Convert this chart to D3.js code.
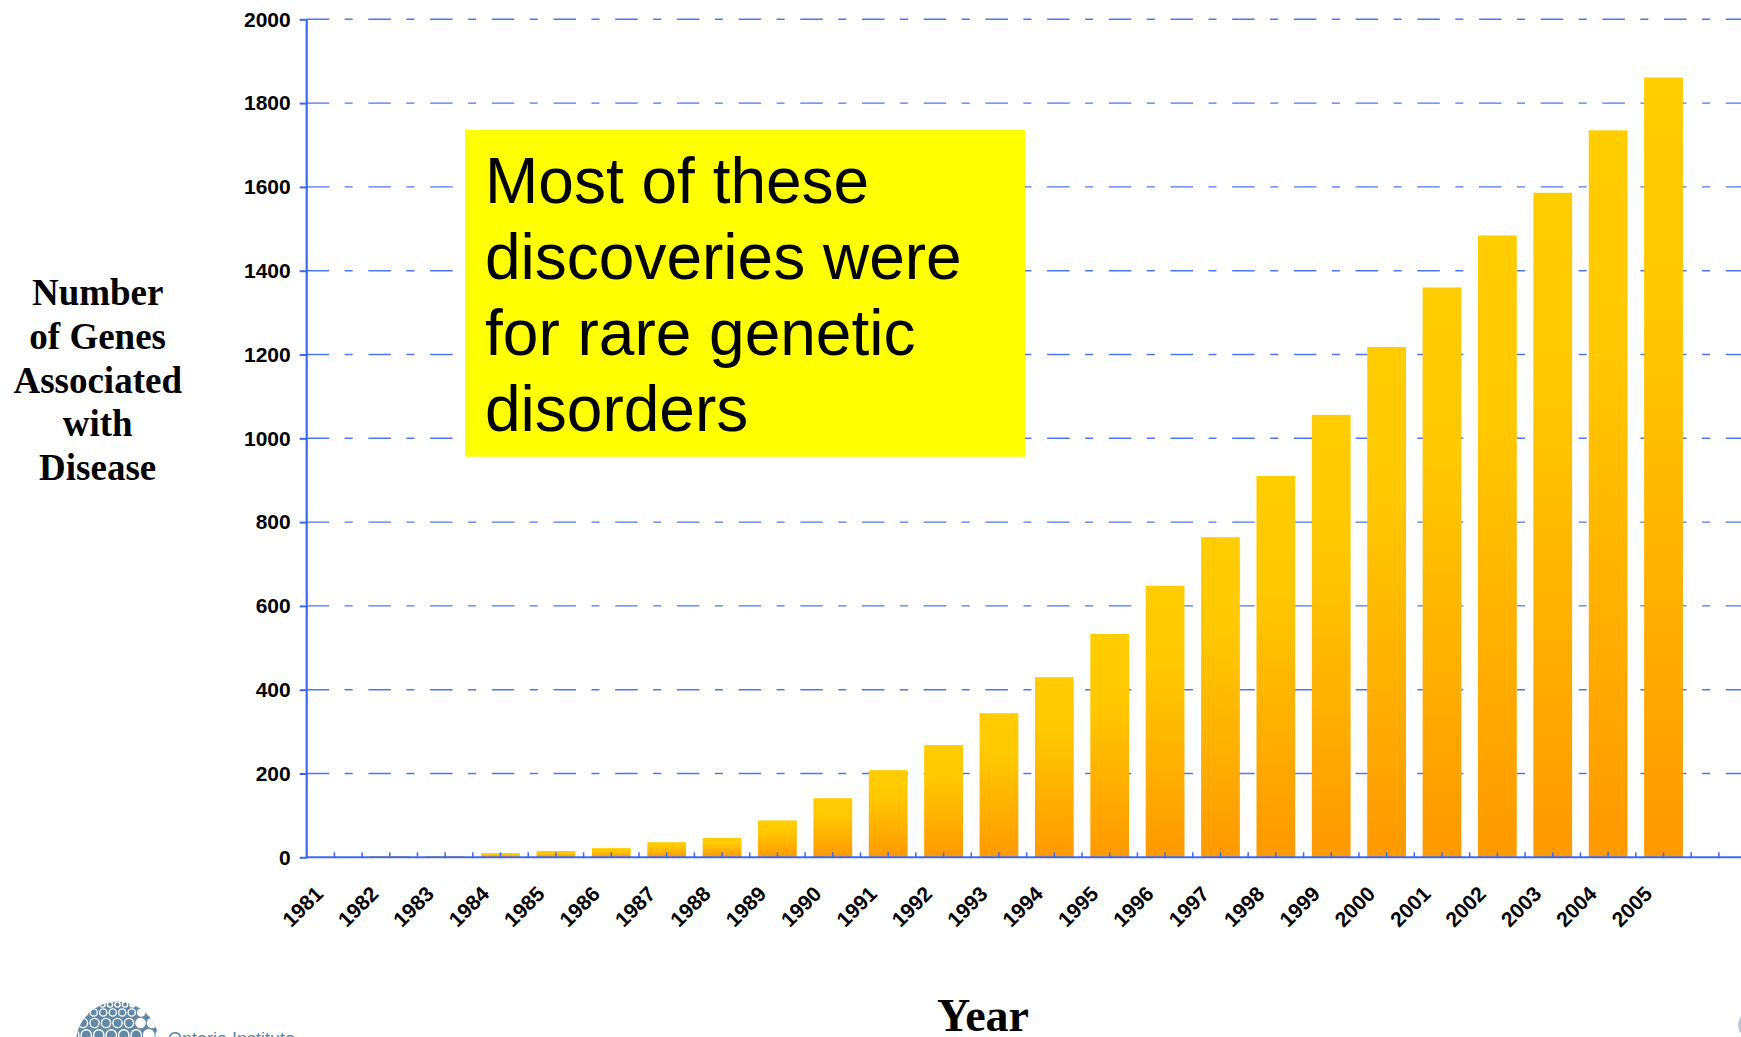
<!DOCTYPE html>
<html>
<head>
<meta charset="utf-8">
<script src="https://cdn.jsdelivr.net/npm/d3@7/dist/d3.min.js"></script>
<style>
  html, body { margin: 0; padding: 0; background: #ffffff; }
  svg { display: block; }
</style>
</head>
<body>
<svg id="chart" width="1741" height="1037"></svg>
<script>
// Genes associated with disease, cumulative count per year
const years = ["1981","1982","1983","1984","1985","1986","1987","1988","1989","1990",
               "1991","1992","1993","1994","1995","1996","1997","1998","1999","2000",
               "2001","2002","2003","2004","2005"];
const geneCounts = [0, 3, 3, 10, 15, 22, 36, 46, 88, 141,
                    208, 268, 344, 430, 533, 648, 764, 910, 1056, 1218,
                    1360, 1484, 1586, 1735, 1861];
const yTicks = [0, 200, 400, 600, 800, 1000, 1200, 1400, 1600, 1800, 2000];
const yTitleLines = ["Number", "of Genes", "Associated", "with", "Disease"];
const xTitle = "Year";
const noteLines = ["Most of these", "discoveries were", "for rare genetic", "disorders"];

const W = 1741, H = 1037;
const plot = { left: 306.7, right: W, top: 19.3, bottom: 857.3 };
const slot = 55.38;

const svg = d3.select("#chart");
const blue = "#3a68f7";

const x = d3.scaleBand()
  .domain(years)
  .range([plot.left, plot.left + slot * years.length])
  .paddingInner(0.3)
  .paddingOuter(0.15);

const y = d3.scaleLinear().domain([0, 2000]).range([plot.bottom, plot.top]);

// bar gradient: yellow at the top fading to orange at the base
const defs = svg.append("defs");
const grad = defs.append("linearGradient")
  .attr("id", "barFill").attr("x1", 0).attr("y1", 0).attr("x2", 0).attr("y2", 1);
grad.append("stop").attr("offset", "0%").attr("stop-color", "#ffcd00");
grad.append("stop").attr("offset", "30%").attr("stop-color", "#ffc800");
grad.append("stop").attr("offset", "100%").attr("stop-color", "#ff9900");

// dash-dot gridlines
svg.append("g").attr("class", "grid")
  .selectAll("line")
  .data(yTicks.filter(d => d > 0))
  .join("line")
  .attr("x1", plot.left).attr("x2", plot.right)
  .attr("y1", d => y(d)).attr("y2", d => y(d))
  .attr("stroke", "#4d76f2")
  .attr("stroke-width", 1.4)
  .attr("stroke-dasharray", "22.5,15.5,8,15.7");

// bars
svg.append("g").attr("class", "bars")
  .selectAll("rect")
  .data(years.map((yr, i) => ({ yr, v: geneCounts[i] })))
  .join("rect")
  .attr("x", d => x(d.yr))
  .attr("width", x.bandwidth())
  .attr("y", d => y(d.v))
  .attr("height", d => y(0) - y(d.v))
  .attr("fill", "url(#barFill)");

// note box
const note = svg.append("g").attr("class", "note");
note.append("rect")
  .attr("x", 465).attr("y", 130).attr("width", 560).attr("height", 326.7)
  .attr("fill", "#ffff00");
note.selectAll("text")
  .data(noteLines)
  .join("text")
  .attr("x", 485)
  .attr("y", (d, i) => 203 + i * 76)
  .attr("font-family", "'Liberation Sans', Arial, Helvetica, sans-serif")
  .attr("font-size", 64)
  .attr("fill", "#000")
  .text(d => d);

// y axis
const yAxis = svg.append("g")
  .attr("transform", `translate(${plot.left},0)`)
  .call(d3.axisLeft(y).tickValues(yTicks).tickFormat(d3.format("d")).tickSize(7).tickPadding(9));
yAxis.select(".domain").attr("stroke", blue).attr("stroke-width", 2.2)
  .attr("d", `M0,${plot.top}V${plot.bottom + 1}`);
yAxis.selectAll(".tick line").attr("stroke", blue).attr("stroke-width", 2);
yAxis.selectAll(".tick text")
  .attr("font-family", "'Liberation Sans', Arial, Helvetica, sans-serif")
  .attr("font-weight", "bold")
  .attr("font-size", 21)
  .attr("fill", "#000");

// x axis: baseline, half-slot ticks, rotated year labels
const xAxis = svg.append("g")
  .attr("transform", `translate(0,${plot.bottom})`)
  .call(d3.axisBottom(x).tickSize(0).tickPadding(0));
xAxis.select(".domain").attr("stroke", blue).attr("stroke-width", 2)
  .attr("d", `M${plot.left},0H${plot.right}`);
xAxis.selectAll(".tick text")
  .attr("font-family", "'Liberation Sans', Arial, Helvetica, sans-serif")
  .attr("font-weight", "bold")
  .attr("font-size", 21)
  .attr("fill", "#000")
  .attr("text-anchor", "end")
  .attr("dy", 0)
  .attr("transform", "translate(-10,38) rotate(-45)");

const half = x.step() / 2;
const firstCenter = x(years[0]) + x.bandwidth() / 2;
const minorTicks = d3.range(firstCenter, plot.right, half);
xAxis.append("g").selectAll("line")
  .data(minorTicks)
  .join("line")
  .attr("x1", d => d).attr("x2", d => d)
  .attr("y1", 0).attr("y2", -5)
  .attr("stroke", blue).attr("stroke-width", 1.5);

// axis titles
svg.append("g").selectAll("text")
  .data(yTitleLines)
  .join("text")
  .attr("x", 97.7)
  .attr("y", (d, i) => 305 + i * 43.8)
  .attr("text-anchor", "middle")
  .attr("font-family", "'Liberation Serif', 'Times New Roman', serif")
  .attr("font-weight", "bold")
  .attr("font-size", 37)
  .attr("fill", "#000")
  .text(d => d);

svg.append("text")
  .attr("x", 983).attr("y", 1031)
  .attr("text-anchor", "middle")
  .attr("font-family", "'Liberation Serif', 'Times New Roman', serif")
  .attr("font-weight", "bold")
  .attr("font-size", 46)
  .attr("fill", "#000")
  .text(xTitle);

// institute logo in the lower left corner
const logo = svg.append("g").attr("class", "logo");
const gx = 117.5, gy = 1043, gr = 41.5;
defs.append("clipPath").attr("id", "globeClip")
  .append("circle").attr("cx", gx).attr("cy", gy).attr("r", gr);
logo.append("circle").attr("cx", gx).attr("cy", gy).attr("r", gr).attr("fill", "#6189a7");
const holes = [];
[[1004.5, 7.5, 2.6], [1012.5, 9.5, 3.6], [1023, 11.5, 4.6], [1035, 12.5, 5.2]].forEach(([ry, sp, r], row) => {
  for (let k = -5; k <= 5; k++) {
    holes.push({ cx: gx + k * sp + (row % 2 ? sp / 2 : 0), cy: ry, r, filled: k === 2 || k === 3 });
  }
});
logo.append("g").attr("clip-path", "url(#globeClip)")
  .selectAll("circle")
  .data(holes)
  .join("circle")
  .attr("cx", d => d.cx).attr("cy", d => d.cy).attr("r", d => d.r)
  .attr("fill", d => d.filled ? "#ffffff" : "none")
  .attr("stroke", "#ffffff").attr("stroke-width", 1.4);
logo.append("text")
  .attr("x", 168).attr("y", 1045)
  .attr("font-family", "'Liberation Sans', Arial, sans-serif")
  .attr("font-size", 18)
  .attr("fill", "#5a86a6")
  .text("Ontario Institute");

// partial emblem at the lower right edge
svg.append("circle").attr("cx", 1752).attr("cy", 1025).attr("r", 14)
  .attr("fill", "#b9c9d9");
</script>
</body>
</html>
